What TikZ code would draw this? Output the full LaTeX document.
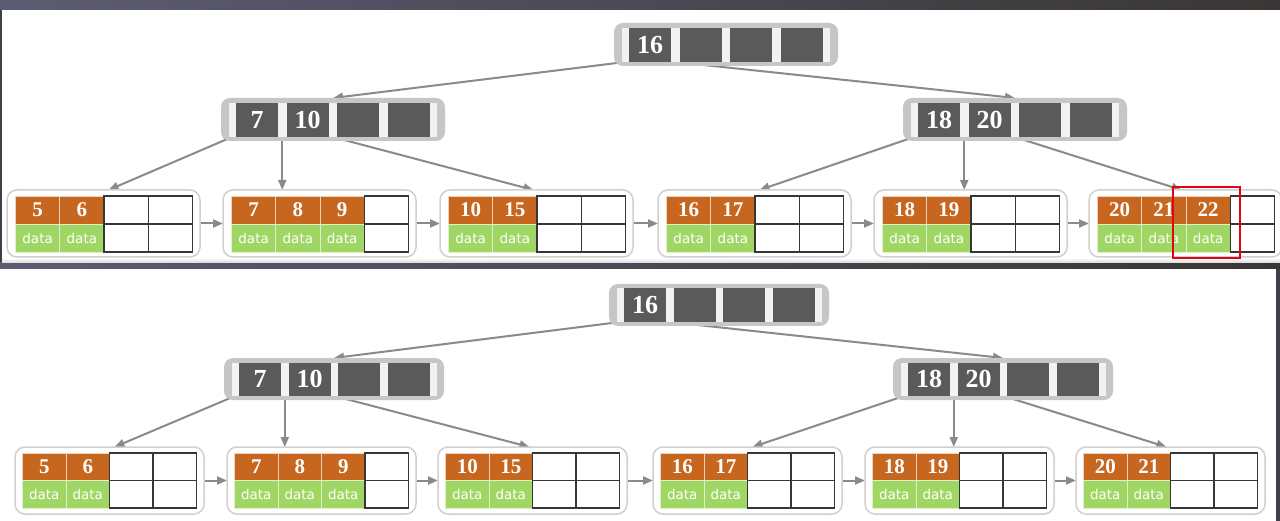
\documentclass[tikz,border=0pt]{standalone}
\usepackage{fontspec}
\setmainfont{Liberation Serif}
\newfontfamily\datafont{DejaVu Sans}
\usetikzlibrary{calc,arrows.meta}
\definecolor{keyor}{RGB}{199,102,31}
\definecolor{datagr}{RGB}{160,214,100}
\definecolor{cellgr}{RGB}{90,90,90}
\definecolor{nodegr}{RGB}{198,198,198}
\definecolor{stripgr}{RGB}{242,242,242}
\definecolor{leafbd}{RGB}{208,208,208}
\definecolor{ptrgr}{RGB}{138,138,138}
\definecolor{gridbk}{RGB}{55,55,55}
\definecolor{hilite}{RGB}{232,0,20}
\definecolor{bgdark}{RGB}{64,62,70}
\definecolor{bgblue}{RGB}{92,92,116}
\definecolor{bgbrown}{RGB}{58,54,52}
\definecolor{edgegr}{RGB}{215,215,215}

\pgfdeclarelayer{bglayer}
\pgfdeclarelayer{ptrlayer}
\pgfsetlayers{bglayer,ptrlayer,main}

\tikzset{
  intouter/.style={fill=nodegr, rounded corners=9pt, inner sep=0pt, outer sep=0pt},
  keydark/.style={fill=cellgr, text=white, inner sep=0pt, outer sep=0pt,
    font=\bfseries\fontsize{26}{26}\selectfont},
  keycell/.style={fill=keyor, draw=white!70!keyor, line width=0.8pt, text=white,
    inner sep=0pt, outer sep=0pt, font=\bfseries\fontsize{21}{21}\selectfont},
  datacell/.style={fill=datagr, draw=white!65!datagr, line width=0.8pt, text=white,
    inner sep=0pt, outer sep=0pt, font=\datafont\fontsize{13.5}{13.5}\selectfont},
  emptycell/.style={fill=white, draw=gridbk, line width=1.5pt, inner sep=0pt, outer sep=0pt},
  leafouter/.style={fill=white, draw=leafbd, line width=1.5pt, rounded corners=10pt,
    inner sep=0pt, outer sep=0pt},
  ptr/.style={draw=ptrgr, line width=2pt, -{Triangle[length=10pt,width=8pt]}},
  hibox/.style={draw=hilite, line width=2.5pt, inner sep=0pt, outer sep=0pt},
}

% internal node: name, x, y (top-left), key1, key2
\newcommand\intnode[5]{%
  \node[intouter, minimum width=\nW pt, minimum height=\nH pt, anchor=north west] (#1) at (#2,#3) {};
  \fill[stripgr] ($(#1.north west)+({\nOff-7},\nCT)$) rectangle ($(#1.north west)+({\nOff+3*\nStep+\nCW+7},{\nCT+\nCH})$);
  \node[keydark, minimum width=\nCW pt, minimum height=\nCH pt, anchor=north west] (#1-1) at ($(#1.north west)+(\nOff,\nCT)$) {#4};
  \node[keydark, minimum width=\nCW pt, minimum height=\nCH pt, anchor=north west] (#1-2) at ($(#1.north west)+({\nOff+\nStep},\nCT)$) {#5};
  \node[keydark, minimum width=\nCW pt, minimum height=\nCH pt, anchor=north west] (#1-3) at ($(#1.north west)+({\nOff+2*\nStep},\nCT)$) {};
  \node[keydark, minimum width=\nCW pt, minimum height=\nCH pt, anchor=north west] (#1-4) at ($(#1.north west)+({\nOff+3*\nStep},\nCT)$) {};
  \coordinate (#1-p0) at ($(#1-1.south west)+(-4,0)$);
  \coordinate (#1-p1) at ($(#1-1.south east)!0.5!(#1-2.south west)$);
  \coordinate (#1-p2) at ($(#1-2.south east)!0.5!(#1-3.south west)$);
}

% one column of a leaf: leaf name, column index, key (empty = free slot)
\newcommand\leafcol[3]{%
  \def\lckey{#3}%
  \ifx\lckey\empty
    \node[emptycell, minimum width=\lfCW pt, minimum height=\lfRH pt, anchor=north west] (#1-k#2) at ($(#1.north west)+({\lfOff+(#2-1)*\lfCW},\lfTop)$) {};
    \node[emptycell, minimum width=\lfCW pt, minimum height=\lfRH pt, anchor=north west] (#1-d#2) at ($(#1.north west)+({\lfOff+(#2-1)*\lfCW},{\lfTop+\lfRH})$) {};
  \else
    \node[keycell, minimum width=\lfCW pt, minimum height=\lfRH pt, anchor=north west] (#1-k#2) at ($(#1.north west)+({\lfOff+(#2-1)*\lfCW},\lfTop)$) {#3};
    \node[datacell, minimum width=\lfCW pt, minimum height=\lfRH pt, anchor=north west] (#1-d#2) at ($(#1.north west)+({\lfOff+(#2-1)*\lfCW},{\lfTop+\lfRH})$) {data};
  \fi
}

% leaf: name, x, y, k1, k2, k3, k4
\newcommand\leafnode[7]{%
  \node[leafouter, minimum width=\lfW pt, minimum height=\lfH pt, anchor=north west] (#1) at (#2,#3) {};
  \leafcol{#1}{1}{#4}\leafcol{#1}{2}{#5}\leafcol{#1}{3}{#6}\leafcol{#1}{4}{#7}%
}

% connectors of one panel (prefix T or B)
\newcommand\connect[1]{%
  \begin{pgfonlayer}{ptrlayer}
    \draw[ptr] (#1R-p0) -- (#1A.north);
    \draw[ptr] (#1R-p1) -- (#1B.north);
    \draw[ptr] (#1A-p0) -- ($(#1L1.north)+(5,0)$);
    \draw[ptr] (#1A-p1) -- (#1A-p1 |- #1L2.north);
    \draw[ptr] (#1A-p2) -- ($(#1L3.north)+(-3,0)$);
    \draw[ptr] (#1B-p0) -- ($(#1L4.north)+(5,0)$);
    \draw[ptr] (#1B-p1) -- (#1B-p1 |- #1L5.north);
    \draw[ptr] (#1B-p2) -- ($(#1L6.north)+(-4,0)$);
    \draw[ptr] (#1L1.east) -- (#1L2.west);
    \draw[ptr] (#1L2.east) -- (#1L3.west);
    \draw[ptr] (#1L3.east) -- (#1L4.west);
    \draw[ptr] (#1L4.east) -- (#1L5.west);
    \draw[ptr] (#1L5.east) -- (#1L6.west);
  \end{pgfonlayer}
}

\begin{document}
\begin{tikzpicture}[x=1pt,y=-1pt]
\useasboundingbox (0,0) rectangle (1280,521);

\begin{pgfonlayer}{bglayer}
  \fill[bgdark] (0,0) rectangle (1280,521);
  \shade[left color=bgblue, right color=bgbrown] (0,0) rectangle (1280,10);
  \shade[left color=bgblue, right color=bgbrown] (0,263) rectangle (1280,269);
  \fill[white] (2,10) rectangle (1280,260);
  \shade[top color=white, bottom color=edgegr] (2,258) rectangle (1280,263);
  \fill[white] (0,269) rectangle (1276,521);
\end{pgfonlayer}

% ---------- top panel ----------
\def\nW{224}\def\nH{43}\def\nOff{15}\def\nStep{50.5}\def\nCW{42}\def\nCH{34}\def\nCT{5}
\def\lfW{193}\def\lfH{67}\def\lfOff{8.5}\def\lfTop{6}\def\lfCW{44.25}\def\lfRH{28}

\intnode{TR}{614}{23}{16}{}
\intnode{TA}{221}{98}{7}{10}
\intnode{TB}{903}{98}{18}{20}

\leafnode{TL1}{7}{190}{5}{6}{}{}
\leafnode{TL2}{223}{190}{7}{8}{9}{}
\leafnode{TL3}{440}{190}{10}{15}{}{}
\leafnode{TL4}{658}{190}{16}{17}{}{}
\leafnode{TL5}{874}{190}{18}{19}{}{}
\leafnode{TL6}{1089}{190}{20}{21}{22}{}

\connect{T}

\node[hibox, minimum width=67pt, minimum height=71pt, anchor=north west] (mark) at (1173,187) {};

% ---------- bottom panel ----------
\def\nW{220}\def\nH{42}\def\nOff{15}\def\nStep{49.6}\def\nCW{42}\def\nCH{33.5}\def\nCT{4.5}
\def\lfW{189}\def\lfH{67}\def\lfOff{7.5}\def\lfTop{6}\def\lfCW{43.5}\def\lfRH{27.5}

\intnode{BR}{609}{284}{16}{}
\intnode{BA}{224}{358}{7}{10}
\intnode{BB}{893}{358}{18}{20}

\leafnode{BL1}{15}{447}{5}{6}{}{}
\leafnode{BL2}{227}{447}{7}{8}{9}{}
\leafnode{BL3}{438}{447}{10}{15}{}{}
\leafnode{BL4}{653}{447}{16}{17}{}{}
\leafnode{BL5}{865}{447}{18}{19}{}{}
\leafnode{BL6}{1076}{447}{20}{21}{}{}

\connect{B}
\end{tikzpicture}
\end{document}
